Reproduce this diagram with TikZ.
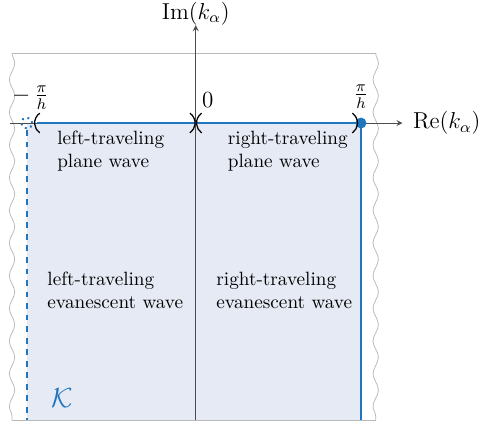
\documentclass[tikz,border=0pt]{standalone}
\usepackage{tikz}
\usetikzlibrary{positioning,arrows,decorations.pathmorphing}
\usepackage{amsmath}
\usepackage{amssymb}
\definecolor{kblue}{RGB}{31,117,190}
\definecolor{kfill}{RGB}{230,234,245}

\begin{document}
\begin{tikzpicture}[
        axis/.style={->, >=stealth, thin, black!70},
        axislabel/.style={font=\large, inner sep=1pt},
        frameline/.style={gray!55, thin},
        wavy/.style={gray!55, thin, decorate, decoration={snake, segment length=17pt, amplitude=1.4pt}},
        bound/.style={kblue, line width=1.5pt},
        paren/.style={line width=0.65pt},
        regiontext/.style={anchor=north west, align=left, inner sep=0pt},
        ticklabel/.style={inner sep=0pt, font=\large}
    ]
    \useasboundingbox (-3.58,-5.50) rectangle (5.16,2.25);

    % Shaded region K
    \fill[kfill] (-3.09,0) rectangle (3.02,-5.43);

    % Frame of the complex plane
    \coordinate (ftl) at (-3.36,1.28);
    \coordinate (ftr) at (3.29,1.28);
    \coordinate (fbl) at (-3.36,-5.43);
    \coordinate (fbr) at (3.29,-5.43);
    \draw[frameline] (ftl) -- (ftr);
    \draw[frameline] (fbl) -- (fbr);
    \draw[wavy] (ftl) -- (fbl);
    \draw[wavy] (ftr) -- (fbr);

    % Axes
    \coordinate (rebeg) at (-3.40,0);
    \coordinate (reend) at (3.78,0);
    \coordinate (imbeg) at (0,-5.43);
    \coordinate (imend) at (0,1.79);
    \draw[axis] (rebeg) -- (reend);
    \draw[axis] (imbeg) -- (imend);
    \node[axislabel, right=0.15cm of reend] (relabel) {$\mathrm{Re}(k_\alpha)$};
    \node[axislabel] (imlabel) at (0,2.0) {$\mathrm{Im}(k_\alpha)$};

    % Boundary of K
    \coordinate (ktl) at (-2.90,0);
    \coordinate (ktr) at (3.02,0);
    \coordinate (kbr) at (3.02,-5.43);
    \coordinate (kdl) at (-3.09,-0.13);
    \coordinate (kbl) at (-3.09,-5.43);
    \draw[bound] (ktl) -- (ktr) -- (kbr);
    \draw[kblue, line width=1.2pt, dashed] (kdl) -- (kbl);
    \fill[kblue] (ktr) circle (0.1);
    \draw[kblue, line width=1pt, dotted] (-3.09,0) circle (0.1);

    % Open ends
    \draw[paren] (-2.853,0.18) arc[start angle=125, end angle=235, radius=0.22];
    \draw[paren] (0.107,0.18) arc[start angle=125, end angle=235, radius=0.22];
    \draw[paren] (-0.107,0.18) arc[start angle=55, end angle=-55, radius=0.22];
    \draw[paren] (2.863,0.18) arc[start angle=55, end angle=-55, radius=0.22];

    % Tick labels
    \node[ticklabel] (mpi) at (-3.02,0.47) {$-\,\frac{\pi}{h}$};
    \node[ticklabel] (zero) at (0.22,0.42) {$0$};
    \node[ticklabel] (ppi) at (3.02,0.49) {$\frac{\pi}{h}$};

    % Region labels
    \node[regiontext] (lplane) at (-2.54,-0.14) {left-traveling\\plane wave};
    \node[regiontext] (rplane) at (0.58,-0.14) {right-traveling\\plane wave};
    \node[regiontext] (levan) at (-2.72,-2.72) {left-traveling\\evanescent wave};
    \node[regiontext] (revan) at (0.37,-2.72) {right-traveling\\evanescent wave};
    \node[kblue, font=\Large] (kset) at (-2.45,-5.02) {$\mathcal{K}$};

    \end{tikzpicture}
\end{document}
